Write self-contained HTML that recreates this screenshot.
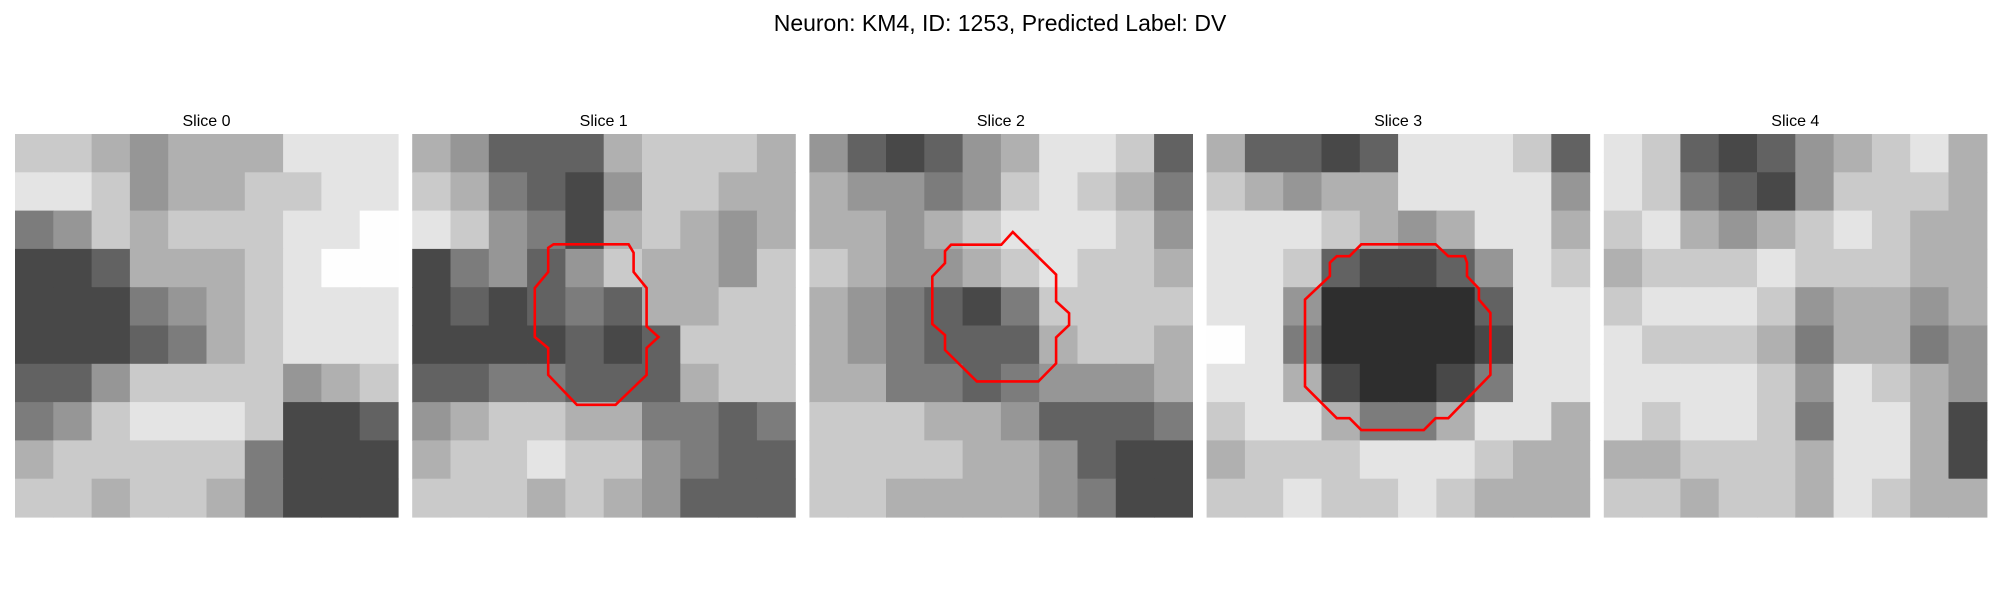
<!DOCTYPE html>
<html><head><meta charset="utf-8">
<style>
html,body{margin:0;padding:0;background:#fff;}
svg{display:block;font-family:"Liberation Sans","DejaVu Sans",sans-serif;}
</style></head>
<body>
<svg id="fig" width="2000" height="600" viewBox="0 0 2000 600" xmlns="http://www.w3.org/2000/svg">
<rect width="2000" height="600" fill="#fff"/>
<text x="1000" y="31" text-anchor="middle" font-size="23" fill="#000">Neuron: KM4, ID: 1253, Predicted Label: DV</text>
</svg>
<script>
const sliceTitles = ["Slice 0","Slice 1","Slice 2","Slice 3","Slice 4"];
const slice0 = [
[7,7,6,5,6,6,6,8,8,8],[8,8,7,5,6,6,7,7,8,8],[4,5,7,6,7,7,7,8,8,9],[2,2,3,6,6,6,7,8,9,9],[2,2,2,4,5,6,7,8,8,8],
[2,2,2,3,4,6,7,8,8,8],[3,3,5,7,7,7,7,5,6,7],[4,5,7,8,8,8,7,2,2,3],[6,7,7,7,7,7,4,2,2,2],[7,7,6,7,7,6,4,2,2,2]];
const slice1 = [
[6,5,3,3,3,6,7,7,7,6],[7,6,4,3,2,5,7,7,6,6],[8,7,5,4,2,6,7,6,5,6],[2,4,5,3,5,7,6,6,5,7],[2,3,2,3,4,3,6,6,7,7],
[2,2,2,2,3,2,3,7,7,7],[3,3,4,4,3,3,3,6,7,7],[5,6,7,7,6,6,4,4,3,4],[6,7,7,8,7,7,5,4,3,3],[7,7,7,6,7,6,5,3,3,3]];
const slice2 = [
[5,3,2,3,5,6,8,8,7,3],[6,5,5,4,5,7,8,7,6,4],[6,6,5,6,7,8,8,8,7,5],[7,6,5,5,6,7,8,7,7,6],[6,5,4,3,2,4,7,7,7,7],
[6,5,4,3,3,3,6,7,7,6],[6,6,4,4,3,4,5,5,5,6],[7,7,7,6,6,5,3,3,3,4],[7,7,7,7,6,6,5,3,2,2],[7,7,6,6,6,6,5,4,2,2]];
const slice3 = [
[6,3,3,2,3,8,8,8,7,3],[7,6,5,6,6,8,8,8,8,5],[8,8,8,7,6,5,6,8,8,6],[8,8,7,3,2,2,3,5,8,7],[8,8,5,1,1,1,1,3,8,8],
[9,8,4,1,1,1,1,2,8,8],[8,8,6,2,1,1,2,4,8,8],[7,8,8,6,4,4,6,8,8,6],[6,7,7,7,8,8,8,7,6,6],[7,7,8,7,7,8,7,6,6,6]];
const slice4 = [
[8,7,3,2,3,5,6,7,8,6],[8,7,4,3,2,5,7,7,7,6],[7,8,6,5,6,7,8,7,6,6],[6,7,7,7,8,7,7,7,6,6],[7,8,8,8,7,5,6,6,5,6],
[8,7,7,7,6,4,6,6,4,5],[8,8,8,8,7,5,8,7,6,5],[8,7,8,8,7,4,8,8,6,2],[6,6,7,7,7,6,8,8,6,2],[7,7,6,7,7,6,8,7,6,6]];
const contour1 = [[0.369,0.288],[0.565,0.288],[0.578,0.31],[0.578,0.36],[0.612,0.402],[0.612,0.502],[0.643,0.53],[0.612,0.559],[0.612,0.629],[0.531,0.707],[0.430,0.707],[0.355,0.629],[0.355,0.559],[0.320,0.53],[0.320,0.402],[0.355,0.36],[0.355,0.297]];
const contour2 = [[0.531,0.256],[0.501,0.289],[0.370,0.289],[0.354,0.306],[0.354,0.337],[0.321,0.372],[0.321,0.496],[0.354,0.525],[0.354,0.564],[0.437,0.646],[0.598,0.646],[0.644,0.599],[0.644,0.531],[0.678,0.499],[0.678,0.468],[0.644,0.437],[0.644,0.367]];
const contour3 = [[0.404,0.288],[0.598,0.288],[0.631,0.319],[0.674,0.319],[0.680,0.336],[0.680,0.371],[0.711,0.404],[0.711,0.432],[0.741,0.467],[0.741,0.629],[0.631,0.742],[0.598,0.742],[0.567,0.773],[0.404,0.773],[0.373,0.742],[0.340,0.742],[0.257,0.659],[0.257,0.432],[0.322,0.371],[0.322,0.336],[0.340,0.319],[0.373,0.319]];

const slices = [slice0, slice1, slice2, slice3, slice4];
const contours = [null, contour1, contour2, contour3, null];
const NS = "http://www.w3.org/2000/svg";
const svg = document.getElementById("fig");
const panelX = i => 15 + i * 397.2;
const panelY = 134, panelSize = 383;
const gray = v => { const g = Math.round(20 + v * 26); return `rgb(${g},${g},${g})`; };

slices.forEach((grid, i) => {
  const g = document.createElementNS(NS, "g");
  
  
  svg.appendChild(g);
  const x0 = panelX(i);
  const n = grid.length, cs = panelSize / n;
  grid.forEach((row, r) => row.forEach((v, c) => {
    const rc = document.createElementNS(NS, "rect");
    
    
    rc.setAttribute("x", (x0 + c * cs).toFixed(2));
    rc.setAttribute("y", (panelY + r * cs).toFixed(2));
    rc.setAttribute("width", (cs + 0.6).toFixed(2));
    rc.setAttribute("height", (cs + 0.6).toFixed(2));
    rc.setAttribute("fill", gray(v));
    g.appendChild(rc);
  }));
  const t = document.createElementNS(NS, "text");
  
  
  t.setAttribute("x", x0 + panelSize / 2);
  t.setAttribute("y", 126);
  t.setAttribute("text-anchor", "middle");
  t.setAttribute("font-size", "16");
  t.textContent = sliceTitles[i];
  svg.appendChild(t);
  const ct = contours[i];
  if (ct) {
    const p = document.createElementNS(NS, "polygon");
    
    
    p.setAttribute("points", ct.map(([fx, fy]) => (x0 + fx * panelSize).toFixed(1) + "," + (panelY + fy * panelSize).toFixed(1)).join(" "));
    p.setAttribute("fill", "none");
    p.setAttribute("stroke", "#ff0000");
    p.setAttribute("stroke-width", "2.6");
    svg.appendChild(p);
  }
});
</script>
</body></html>
